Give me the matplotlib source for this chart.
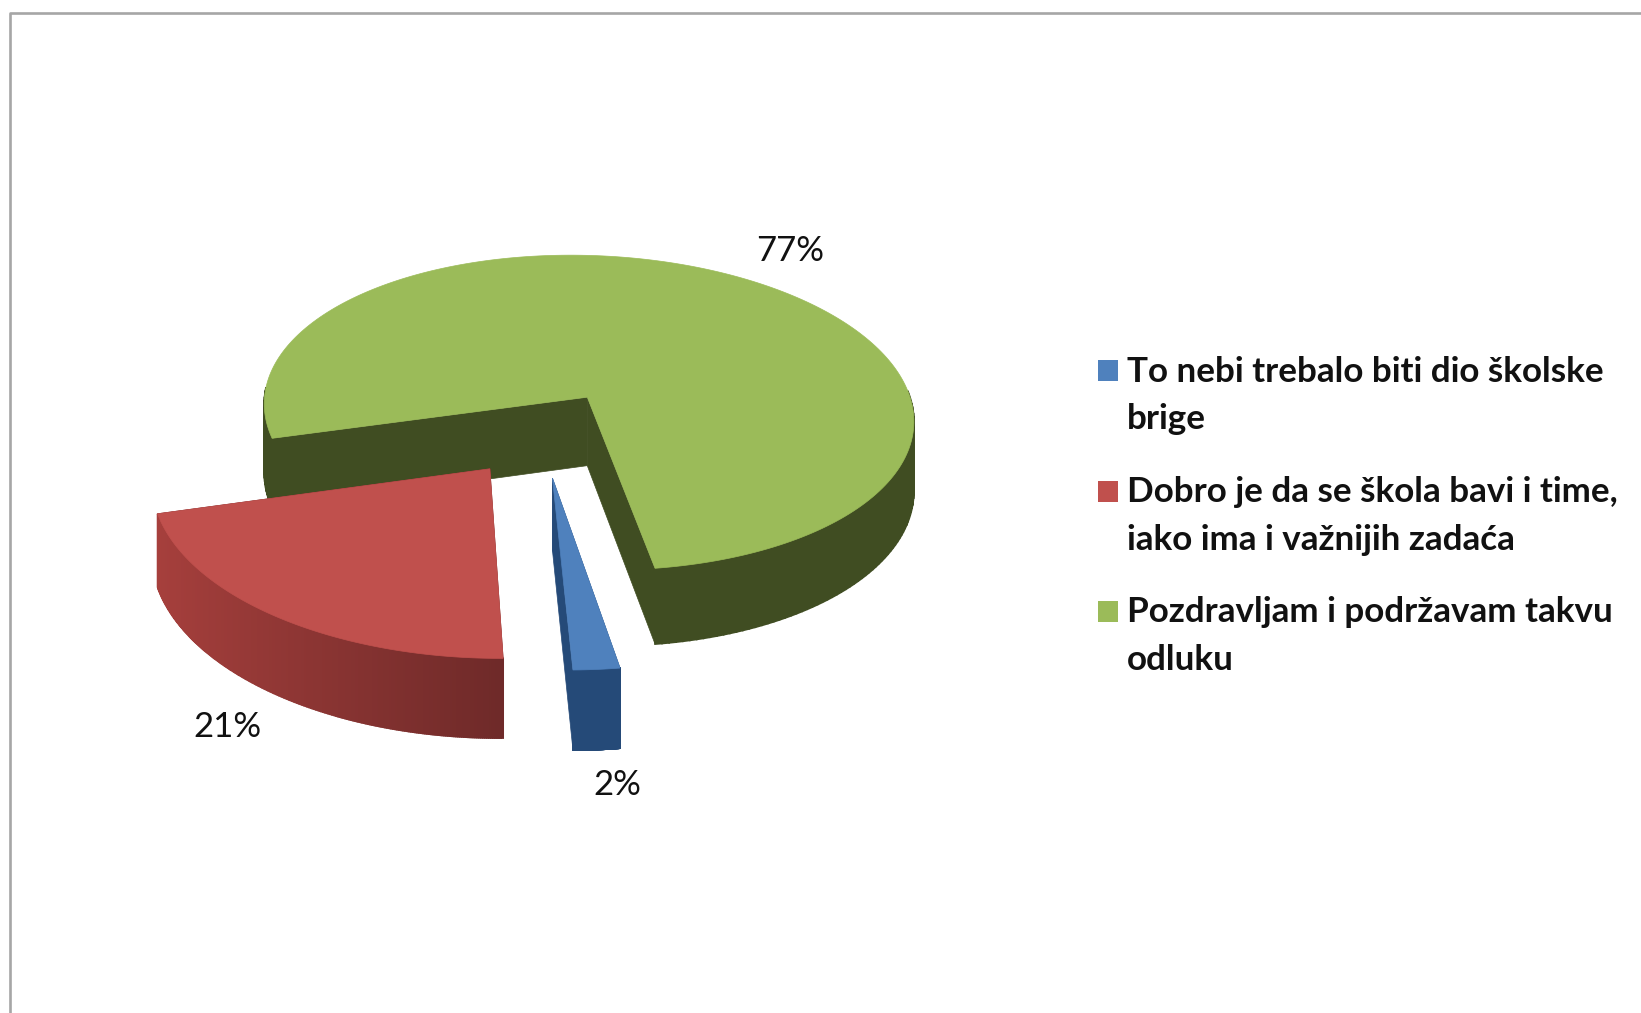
import numpy as np
import matplotlib
matplotlib.use('Agg')
import matplotlib.pyplot as plt
from matplotlib.patches import Polygon, Rectangle
from matplotlib.colors import to_rgb

# data
labels = ['To nebi trebalo biti dio školske\nbrige',
          'Dobro je da se škola bavi i time,\niako ima i važnijih zadaća',
          'Pozdravljam i podržavam takvu\nodluku']
values = [2, 21, 77]
pct_labels = ['2%', '21%', '77%']

# colours
top_colors = ['#4f81bd', '#c0504d', '#9bbb59']
wall_dark = ['#254a78', '#6f2a29', '#404d22']
wall_light = ['#254a78', '#a8403d', '#404d22']

# pie geometry in pixels, fake perspective like the excel 3d pie
X0, Y0 = 542, 433
SX, SY = 330, 163
SHEAR = 14
PERSP = 0.1
DEPTH = 70
EXPLODE = 0.27
START = 172.3

plt.rcParams['font.family'] = ['Lato', 'DejaVu Sans']


def project(u, v, drop=0.0):
    w = 1 - PERSP * v
    return np.column_stack([X0 + (SX * u + SHEAR * v) / w, Y0 + SY * v / w + drop / w])


def wall_color(i, t):
    a = np.array(to_rgb(wall_dark[i]))
    b = np.array(to_rgb(wall_light[i]))
    return tuple(a + (b - a) * t)


fig = plt.figure(figsize=(16.41, 10.13), dpi=100)
ax = fig.add_axes([0, 0, 1, 1])
ax.set_xlim(0, 1641)
ax.set_ylim(1013, 0)
ax.axis('off')

# outer border, only top and left show in the picture
ax.plot([10, 10, 1641], [1013, 13, 13], color='#a6a6a6', lw=1.9, zorder=1)

fractions = np.array(values) / sum(values)
starts = START + 360 * np.concatenate([[0], np.cumsum(fractions)[:-1]])
ends = starts + 360 * fractions

# green is behind the other two, then red, then blue
for i in [2, 1, 0]:
    mid = np.radians((starts[i] + ends[i]) / 2)
    cu = EXPLODE * np.sin(mid)
    cv = -EXPLODE * np.cos(mid)
    th = np.radians(np.linspace(starts[i], ends[i], 240))
    u = cu + np.sin(th)
    v = cv - np.cos(th)
    z = 10 + (2 - i) * 10

    # the two cut faces
    for k in [0, -1]:
        top = project(np.array([cu, u[k]]), np.array([cv, v[k]]))
        bot = project(np.array([cu, u[k]]), np.array([cv, v[k]]), DEPTH)
        ax.add_patch(Polygon(np.vstack([top, bot[::-1]]), closed=True,
                             fc=wall_dark[i], ec=wall_dark[i], lw=0.5, zorder=z))

    # rim wall, small quads for the gradient
    top = project(u, v)
    bot = project(u, v, DEPTH)
    front = np.where(np.cos(th) < 0.05)[0]
    for a in front:
        if a + 1 >= len(th):
            continue
        # lighter to the left of the slice
        t = np.clip(-np.sin(th[a]), 0, 1)
        c = wall_color(i, t)
        quad = np.array([top[a], top[a + 1], bot[a + 1], bot[a]])
        ax.add_patch(Polygon(quad, closed=True, fc=c, ec=c, lw=1.2, zorder=z + 1))

    # top of the slice
    pts = np.vstack([project(np.array([cu]), np.array([cv])), top])
    ax.add_patch(Polygon(pts, closed=True, fc=top_colors[i], ec=top_colors[i],
                         lw=0.5, zorder=z + 2))

# percent labels
pct_x = [617.5, 227, 790]
pct_y = [785, 727, 251]
for s, x, y in zip(pct_labels, pct_x, pct_y):
    ax.text(x, y, s, fontsize=25, color='#111111', ha='center', va='center', zorder=50)

# legend
leg_y = [370.5, 491, 611]
for i in range(3):
    ax.add_patch(Rectangle((1098, leg_y[i] - 10.5), 20, 21, fc=top_colors[i], ec='none', zorder=50))
    ax.text(1127, leg_y[i] - 15, labels[i], fontsize=25.2, fontweight='bold', color='#111111',
            ha='left', va='top', linespacing=1.6, zorder=50)

fig.savefig('out.png', dpi=100, facecolor='white')
